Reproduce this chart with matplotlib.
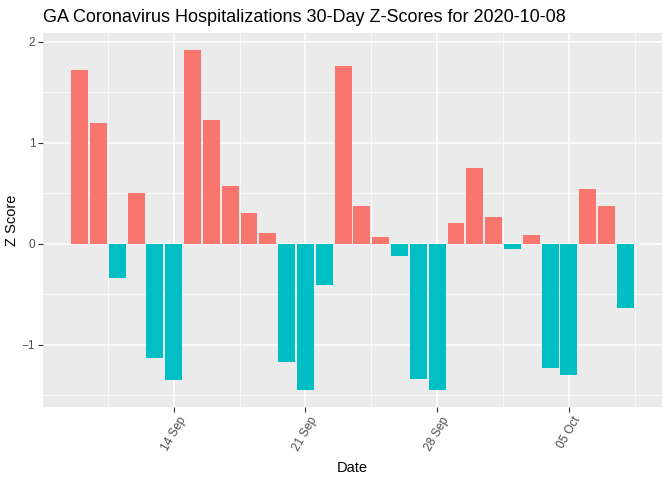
import numpy as np
import pandas as pd
import matplotlib
matplotlib.use("Agg")
import matplotlib.pyplot as plt
import matplotlib.dates as mdates

# daily z-scores, 2020-09-09 .. 2020-10-08
dates = pd.date_range("2020-09-09", "2020-10-08", freq="D")
z_scores = [1.72, 1.20, -0.34, 0.50, -1.13, -1.35, 1.92, 1.23, 0.57, 0.30,
            0.11, -1.17, -1.45, -0.41, 1.76, 0.37, 0.07, -0.12, -1.34, -1.45,
            0.21, 0.75, 0.26, -0.05, 0.09, -1.23, -1.30, 0.54, 0.37, -0.64]
tick_dates = pd.to_datetime(["2020-09-14", "2020-09-21", "2020-09-28", "2020-10-05"])
tick_labels = ["14 Sep", "21 Sep", "28 Sep", "05 Oct"]
minor_dates = pd.to_datetime(["2020-09-10 12:00", "2020-09-17 12:00", "2020-09-24 12:00",
                              "2020-10-01 12:00", "2020-10-08 12:00"])

plt.rcParams['font.family'] = ['Liberation Sans', 'DejaVu Sans']

df = pd.DataFrame({"date": dates, "z": z_scores})
colors = ["#F8766D" if v > 0 else "#00BFC4" for v in df["z"]]

fig = plt.figure(figsize=(6.72, 4.8), dpi=100)
ax = fig.add_axes([43 / 672, 1 - 407 / 480, (662 - 43) / 672, (407 - 33) / 480])
ax.set_facecolor("#EBEBEB")

ax.bar(df["date"], df["z"], width=0.9, color=colors, zorder=3)

# ggplot-like expansion
x0 = mdates.date2num(dates[0]) - 0.45
x1 = mdates.date2num(dates[-1]) + 0.45
xr = x1 - x0
ax.set_xlim(x0 - 0.05 * xr, x1 + 0.05 * xr)
ymin, ymax = min(z_scores), max(z_scores)
yr = ymax - ymin
ax.set_ylim(ymin - 0.05 * yr, ymax + 0.05 * yr)

ax.set_xticks(tick_dates)
ax.set_xticklabels(tick_labels, rotation=60, ha="center", va="top",
                   rotation_mode="default")
ax.set_xticks(minor_dates, minor=True)
ax.set_yticks([-1, 0, 1, 2])
ax.set_yticks([-1.5, -0.5, 0.5, 1.5], minor=True)

ax.grid(which="major", color="white", linewidth=1.1, zorder=0)
ax.grid(which="minor", color="white", linewidth=0.55, zorder=0)
ax.set_axisbelow(True)

for s in ax.spines.values():
    s.set_visible(False)
ax.tick_params(which="major", length=3.5, width=0.8, color="#333333",
               labelsize=8.5, labelcolor="#4D4D4D", pad=2)
ax.tick_params(which="minor", length=0)

ax.set_xlabel("Date", fontsize=10.5, labelpad=6)
ax.set_ylabel("Z Score", fontsize=10.5, labelpad=2)
fig.text(43 / 672, 1 - 18 / 480, "GA Coronavirus Hospitalizations 30-Day Z-Scores for 2020-10-08",
         fontsize=13, ha="left", va="center")

fig.savefig("out.png", dpi=100)
